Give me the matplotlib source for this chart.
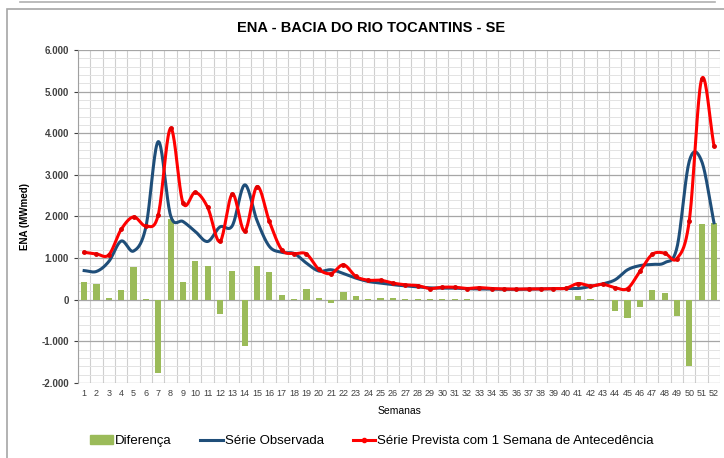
import matplotlib
matplotlib.use("Agg")
import matplotlib.pyplot as plt
from matplotlib.patches import Rectangle
from matplotlib.lines import Line2D
from matplotlib.ticker import FuncFormatter, MultipleLocator
import numpy as np

plt.rcParams["font.family"] = ["Liberation Sans", "DejaVu Sans"]

# data (MWmed)
semanas = list(range(1, 53))
observada = [700, 680, 920, 1410, 1170, 1750, 3800, 2020, 1880, 1640,
             1400, 1750, 1780, 2760, 1900, 1280, 1140, 1110, 880, 690,
             720, 630, 520, 440, 400, 360, 335, 310, 285, 280,
             280, 265, 260, 255, 250, 250, 255, 260, 265, 270,
             270, 320, 380, 480, 720, 820, 850, 890, 1250, 3330,
             3330, 1850]
prevista = [1140, 1100, 1080, 1690, 1990, 1770, 2040, 4120, 2330, 2580,
            2220, 1400, 2540, 1650, 2720, 1880, 1200, 1110, 1100, 730,
            630, 840, 560, 470, 470, 400, 360, 340, 270, 300,
            300, 270, 290, 270, 260, 255, 260, 260, 270, 275,
            390, 330, 370, 290, 270, 680, 1090, 1120, 990, 1900,
            5300, 3700]
diferenca = [430, 390, 30, 230, 790, 20, -1770, 1950, 430, 940,
             820, -350, 680, -1100, 800, 660, 110, 15, 260, 40,
             -90, 190, 80, 10, 45, 30, 10, 25, 10, 15,
             25, 10, 5, 5, 5, -10, 5, 5, 5, 5,
             90, 15, 5, -280, -430, -170, 230, 170, -400, -1590,
             1830, 1850]


def suave(x, y, n=20):
    # Catmull-Rom smoothing, like Excel's smoothed line
    x = np.asarray(x, float)
    y = np.asarray(y, float)
    px = np.concatenate([[2 * x[0] - x[1]], x, [2 * x[-1] - x[-2]]])
    py = np.concatenate([[2 * y[0] - y[1]], y, [2 * y[-1] - y[-2]]])
    xs, ys = [], []
    t = np.linspace(0, 1, n, endpoint=False)
    for i in range(1, len(px) - 2):
        for p, out in ((px, xs), (py, ys)):
            p0, p1, p2, p3 = p[i - 1], p[i], p[i + 1], p[i + 2]
            out.extend(0.5 * ((2 * p1) + (-p0 + p2) * t
                              + (2 * p0 - 5 * p1 + 4 * p2 - p3) * t ** 2
                              + (-p0 + 3 * p1 - 3 * p2 + p3) * t ** 3))
    xs.append(x[-1])
    ys.append(y[-1])
    return np.array(xs), np.array(ys)


fig = plt.figure(figsize=(7.24, 4.58), dpi=100)
ax = fig.add_axes([0.1077, 0.1638, 0.887, 0.727])

# chart frame
fig.patches.append(Rectangle((7 / 724, -0.05), 1.0, 1 - 9 / 458 + 0.05,
                             transform=fig.transFigure, fill=False,
                             edgecolor="#a6a6a6", linewidth=1.2))
fig.lines.append(Line2D([20 / 724, 715 / 724], [1 - 2 / 458, 1 - 2 / 458],
                        transform=fig.transFigure, color="#b0b0b0", linewidth=1.2))

x = np.array(semanas)
ax.bar(x, diferenca, width=0.5, color="#9bbb59", zorder=2, label="Diferença")
sx, sy = suave(x, observada)
ax.plot(sx, sy, color="#1f4e79", linewidth=2.2, zorder=3)
sx, sy = suave(x, prevista)
ax.plot(sx, sy, color="#ff0000", linewidth=2.2, zorder=4)
ax.plot(x, prevista, linestyle="none", marker="o", markersize=2.5,
        color="#e00000", zorder=5)

ax.set_xlim(0.5, 52.5)
ax.set_ylim(-2000, 6000)
ax.set_xticks(x)
ax.set_xticklabels([str(s) for s in semanas], fontsize=6.5, color="#404040")
ax.set_xticks(np.arange(0.5, 53, 1), minor=True)
ax.yaxis.set_major_locator(MultipleLocator(1000))
ax.yaxis.set_minor_locator(MultipleLocator(200))
ax.yaxis.set_major_formatter(FuncFormatter(lambda v, p: f"{int(v):,}".replace(",", ".")))
ax.tick_params(axis="y", labelsize=7, colors="#404040", length=3)
ax.tick_params(axis="x", which="both", length=0, pad=4)
ax.tick_params(axis="y", which="minor", length=0)
for lab in ax.get_yticklabels():
    lab.set_fontweight("bold")

ax.grid(which="minor", axis="x", color="#cfcfcf", linewidth=0.8)
ax.grid(which="major", axis="y", color="#a6a6a6", linewidth=0.9)
ax.grid(which="minor", axis="y", color="#e3e3e3", linewidth=0.7)
ax.set_axisbelow(True)
for s in ["top", "right", "bottom"]:
    ax.spines[s].set_visible(False)
ax.spines["left"].set_color("#a0a0a0")

fig.text(371 / 724, 1 - 28 / 458, "ENA - BACIA DO RIO TOCANTINS - SE",
         fontsize=10.5, fontweight="bold", ha="center", va="center")
ax.set_ylabel("ENA (MWmed)", fontsize=7, fontweight="bold", labelpad=8)
ax.set_xlabel("Semanas", fontsize=7.5, labelpad=6)

handles = [Rectangle((0, 0), 1, 1, color="#9bbb59"),
           Line2D([], [], color="#1f4e79", linewidth=2.2),
           Line2D([], [], color="#ff0000", linewidth=2.2, marker="o", markersize=3)]
fig.legend(handles, ["Diferença", "Série Observada", "Série Prevista com 1 Semana de Antecedência"],
           loc="center", bbox_to_anchor=(372 / 724, 1 - 441 / 458), ncol=3, frameon=False,
           fontsize=9.5, handlelength=1.7, handletextpad=0.15, columnspacing=2.2)

fig.savefig("out.png", dpi=100)
